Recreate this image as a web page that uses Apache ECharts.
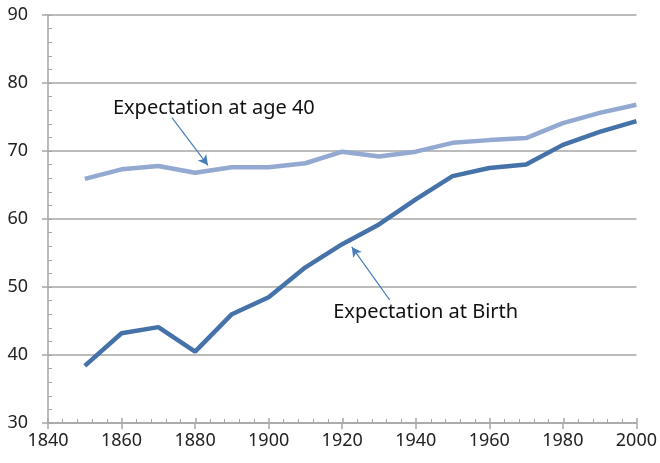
<!DOCTYPE html>
<html>
<head>
<meta charset="utf-8">
<script src="https://cdn.jsdelivr.net/npm/echarts@6/dist/echarts.min.js"></script>
<style>
  html, body { margin: 0; padding: 0; background: #fff; }
  #chart { width: 660px; height: 463px; }
</style>
</head>
<body>
<div id="chart"></div>
<script>
// years on the x axis
const years = [1850, 1860, 1870, 1880, 1890, 1900, 1910, 1920, 1930, 1940, 1950, 1960, 1970, 1980, 1990, 2000];
// life expectancy at birth
const atBirth = [38.4, 43.2, 44.1, 40.5, 46.0, 48.5, 52.9, 56.3, 59.2, 62.9, 66.3, 67.5, 68.0, 70.9, 72.8, 74.4];
// life expectancy at age 40
const atAge40 = [65.9, 67.3, 67.8, 66.8, 67.6, 67.6, 68.2, 69.9, 69.2, 69.9, 71.2, 71.6, 71.9, 74.1, 75.6, 76.8];

const font = "Noto Sans";
const axisGrey = "#a6a6a6";

const chart = echarts.init(document.getElementById("chart"));

const pairs = (ys) => years.map((y, i) => [y, ys[i]]);

// second grid on top of the first one only carries the inner (minor) ticks
const gridBox = { left: 48, right: 23, top: 15, bottom: 40 };

chart.setOption({
  animation: false,
  grid: [gridBox, gridBox],
  xAxis: [
    {
      type: "value",
      gridIndex: 0,
      min: 1840,
      max: 2000,
      interval: 20,
      axisLine: { lineStyle: { color: axisGrey, width: 1.5 } },
      axisTick: { length: 6, lineStyle: { color: axisGrey, width: 1.5 } },
      axisLabel: { color: "#222", fontFamily: font, fontSize: 18, margin: 9, formatter: (v) => String(v) },
      splitLine: { show: false },
    },
    {
      type: "value",
      gridIndex: 1,
      min: 1840,
      max: 2000,
      interval: 20,
      axisLine: { show: false },
      axisTick: { inside: true, length: 5, lineStyle: { color: axisGrey, width: 1.5 } },
      minorTick: { show: true, splitNumber: 5, length: 4, lineStyle: { color: axisGrey, width: 1 } },
      axisLabel: { show: false },
      splitLine: { show: false },
    },
  ],
  yAxis: [
    {
      type: "value",
      gridIndex: 0,
      min: 30,
      max: 90,
      interval: 10,
      axisLine: { show: true, lineStyle: { color: axisGrey, width: 1.5 } },
      axisTick: { show: true, length: 6, lineStyle: { color: axisGrey, width: 1.5 } },
      axisLabel: { color: "#222", fontFamily: font, fontSize: 18, margin: 20 },
      splitLine: { lineStyle: { color: axisGrey, width: 1.5 } },
    },
    {
      type: "value",
      gridIndex: 1,
      min: 30,
      max: 90,
      interval: 10,
      axisLine: { show: false },
      axisTick: { show: true, inside: true, length: 4, lineStyle: { color: axisGrey, width: 1 } },
      minorTick: { show: true, splitNumber: 5, length: 4, lineStyle: { color: axisGrey, width: 1 } },
      axisLabel: { show: false },
      splitLine: { show: false },
    },
  ],
  series: [
    {
      name: "Expectation at age 40",
      type: "line",
      data: pairs(atAge40),
      symbol: "none",
      lineStyle: { color: "#93a9d1", width: 4.5 },
      z: 3,
      markLine: {
        silent: true,
        symbol: ["none", "arrow"],
        symbolSize: [8, 10],
        lineStyle: { color: "#4a7ebb", width: 1.2, type: "solid" },
        label: { show: false },
        data: [[{ coord: [1873.7, 74.9] }, { coord: [1883.5, 67.9] }]],
      },
      markPoint: {
        silent: true,
        symbol: "circle",
        symbolSize: 0,
        label: {
          show: true,
          position: "inside",
          formatter: "Expectation at age 40",
          color: "#111",
          fontFamily: font,
          fontSize: 20,
        },
        data: [{ coord: [1885.1, 76.3] }],
      },
    },
    {
      name: "Expectation at Birth",
      type: "line",
      data: pairs(atBirth),
      symbol: "none",
      lineStyle: { color: "#4672aa", width: 4.5 },
      z: 4,
      markLine: {
        silent: true,
        symbol: ["none", "arrow"],
        symbolSize: [8, 10],
        lineStyle: { color: "#4a7ebb", width: 1.2, type: "solid" },
        label: { show: false },
        data: [[{ coord: [1932.9, 48.1] }, { coord: [1922.6, 55.9] }]],
      },
      markPoint: {
        silent: true,
        symbol: "circle",
        symbolSize: 0,
        label: {
          show: true,
          position: "inside",
          formatter: "Expectation at Birth",
          color: "#111",
          fontFamily: font,
          fontSize: 20,
        },
        data: [{ coord: [1942.7, 46.3] }],
      },
    },
  ],
});
</script>
</body>
</html>
